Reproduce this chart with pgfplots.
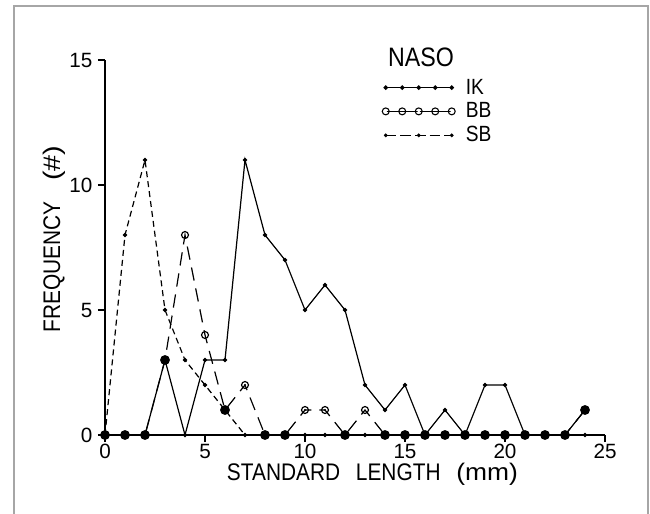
\documentclass[border=0pt]{standalone}
\usepackage{graphicx}
\usepackage{pgfplots}
\pgfplotsset{compat=1.18}
\usepackage{fontspec}
\setmainfont{Liberation Sans}
\newcommand{\nw}[1]{\scalebox{0.87}[1]{#1}}

\pgfdeclareplotmark{odot}{%
  \pgfpathcircle{\pgfpointorigin}{\pgfplotmarksize}\pgfusepathqstroke
  \pgfpathcircle{\pgfpointorigin}{0.35\pgfplotmarksize}\pgfusepathqfill}

\begin{document}
\begin{tikzpicture}
\useasboundingbox (-78.75pt,-59.25pt) rectangle (408.75pt,326.25pt);
\draw[gray!70, line width=0.9pt] (-68.25pt,-80pt) rectangle (407.25pt,321.75pt);
\begin{axis}[
  at={(0,0)}, anchor=south west, scale only axis,
  width=375pt, height=281.25pt,
  xmin=0, xmax=25, ymin=0, ymax=15,
  axis x line*=bottom, axis y line*=left,
  xtick={0,5,...,25}, ytick={0,5,10,15},
  tick align=outside, major tick length=5.25pt,
  tick style={black, line width=0.8pt},
  axis line style={line width=0.8pt},
  /pgf/number format/assume math mode=true,
  ticklabel style={font=\fontsize{15.5}{18}\selectfont},
  xticklabel style={inner sep=0pt, anchor=north, yshift=-1.5pt},
  yticklabel style={inner sep=0pt, anchor=east, xshift=-4pt},
  clip=false,
  legend style={at={(axis cs:13.85,14.25)}, anchor=north west, draw=none, fill=none,
    inner sep=0pt, nodes={inner sep=0pt}, row sep=5pt,
    font=\fontsize{16.5}{19}\selectfont,
    /tikz/column 1/.style={column sep=8pt}},
  legend cell align=left,
]
\addlegendimage{legend image code/.code={
  \draw[line width=0.9pt, mark=*, mark size=1.2pt] plot coordinates {(0pt,0pt) (12.375pt,0pt) (24.75pt,0pt) (37.125pt,0pt) (49.5pt,0pt)};}}
\addlegendentry{\nw{IK}}
\addlegendimage{legend image code/.code={
  \draw[line width=0.9pt] (0pt,0pt) -- (49.5pt,0pt);
  \draw[line width=0.8pt, fill=white, mark=odot, mark size=2.6pt] plot[only marks] coordinates {(0pt,0pt) (24.75pt,0pt) (49.5pt,0pt)};
  \draw[line width=0.8pt, fill=white, mark=o, mark size=2.6pt] plot[only marks] coordinates {(12.375pt,0pt) (37.125pt,0pt)};}}
\addlegendentry{\nw{BB}}
\addlegendimage{legend image code/.code={
  \draw[line width=0.9pt, dash pattern=on 8pt off 3pt] (0pt,0pt) -- (49.5pt,0pt);
  \draw[mark=*, mark size=1.2pt] plot[only marks] coordinates {(0pt,0pt) (24.75pt,0pt) (49.5pt,0pt)};}}
\addlegendentry{\nw{SB}}

% SB
\addplot[forget plot, black, line width=0.9pt, dash pattern=on 4.5pt off 3pt,
  mark=*, mark size=1.2pt, mark options={solid}] coordinates {
  (0,0)(1,8)(2,11)(3,5)(4,3)(5,2)(6,1)(7,0)(8,0)(9,0)(10,0)(11,0)(12,0)
  (13,0)(14,0)(15,0)(16,0)(17,0)(18,0)(19,0)(20,0)(21,0)(22,0)(23,0)(24,0)};
% BB
\addplot[forget plot, black, line width=0.9pt, dash pattern=on 10pt off 6pt,
  scatter, point meta=explicit symbolic,
  scatter/classes={
    f={mark=*, mark size=3.2pt, draw=black, fill=black, solid},
    o={mark=o, mark size=2.6pt, draw=black, solid},
    d={mark=odot, mark size=2.6pt, draw=black, fill=black, solid}}]
  coordinates {
  (0,0)[f](1,0)[f](2,0)[f](3,3)[f](4,8)[o](5,4)[o](6,1)[f](7,2)[d](8,0)[f]
  (9,0)[f](10,1)[d](11,1)[d](12,0)[f](13,1)[o](14,0)[f](15,0)[f](16,0)[f]
  (17,0)[f](18,0)[f](19,0)[f](20,0)[f](21,0)[f](22,0)[f](23,0)[f](24,1)[f]};
% IK
\addplot[forget plot, black, line width=0.9pt, mark=*, mark size=1.2pt] coordinates {
  (0,0)(1,0)(2,0)(3,3)(4,0)(5,3)(6,3)(7,11)(8,8)(9,7)(10,5)(11,6)(12,5)
  (13,2)(14,1)(15,2)(16,0)(17,1)(18,0)(19,2)(20,2)(21,0)(22,0)(23,0)(24,1)};

\node[font=\fontsize{20}{24}\selectfont, anchor=center] at (axis cs:15.8,15.12) {\nw{NASO}};
\node[font=\fontsize{18}{21}\selectfont, anchor=north, inner sep=0pt] at (axis cs:13.37,-1.12)
  {\nw{STANDARD\hspace{0.75em}LENGTH\hspace{0.75em}}\scalebox{1.1}[1]{(mm)}};
\node[font=\fontsize{18}{21}\selectfont, anchor=center, inner sep=0pt, rotate=90] at (axis cs:-2.55,7.84)
  {\nw{FREQUENCY\hspace{1em}}\scalebox{1.2}[1]{(\#)}};
\end{axis}
\end{tikzpicture}
\end{document}
